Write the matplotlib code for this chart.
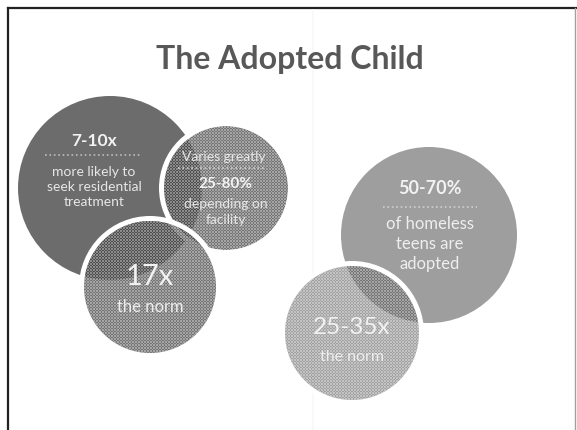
import numpy as np
import matplotlib.pyplot as plt
from matplotlib.patches import Circle

plt.rcParams['font.family'] = ['Lato', 'DejaVu Sans']

title = 'The Adopted Child'

# headline figures and their captions, left group then right group
big_text = ['7-10x', '25-80%', '17x', '50-70%', '25-35x']
top_text = ['', 'Varies greatly', '', '', '']
sub_text = ['more likely to\nseek residential\ntreatment',
            'depending on\nfacility',
            'the norm',
            'of homeless\nteens are\nadopted',
            'the norm']


def ring(ax, cx, cy, r, w=5):
    # white halo around a patterned disc
    ax.add_patch(Circle((cx, cy), r + w / 2, fill=False, edgecolor='white',
                        linewidth=w * 0.72, zorder=3))


def dotted_disc(ax, cx, cy, r, face, alpha, z):
    ax.add_patch(Circle((cx, cy), r, facecolor=face, edgecolor='none',
                        alpha=alpha, zorder=z))
    # fine mesh of light dots, like the printed screen texture
    n = int(2 * r) + 2
    i, j = np.mgrid[0:n, 0:n]
    mask = ((i + j) % 3 == 0) | ((i - j) % 3 == 0)
    tex = np.zeros((n, n, 4))
    tex[..., :3] = 1.0
    tex[..., 3] = np.where(mask, 0.35, 0.0)
    clip = Circle((cx, cy), r, transform=ax.transData)
    im = ax.imshow(tex, extent=(cx - n / 2, cx + n / 2, cy + n / 2, cy - n / 2),
                   interpolation='nearest', zorder=z + 0.1)
    im.set_clip_path(clip)


fig = plt.figure(figsize=(5.77, 4.30), dpi=100)
ax = fig.add_axes([0, 0, 1, 1])
ax.axis('off')

# frame of the scanned slide
ax.plot([8, 8], [430, 8], color='#222222', lw=1.6)
ax.plot([8, 577], [8, 8], color='#222222', lw=1.6)
ax.plot([575, 575], [8, 430], color='#a0a0a0', lw=1.0)
ax.plot([313, 313], [10, 430], color='#f8f8f8', lw=1.2)

ax.text(290, 59, title, ha='center', va='center', fontsize=23,
        color='#585858', fontweight='bold')

# left group
ax.add_patch(Circle((110, 188), 92, facecolor='#6c6c6c', edgecolor='none', zorder=1))
dotted_disc(ax, 226, 188, 62, '#454545', 0.74, 2)
ring(ax, 226, 188, 62)
dotted_disc(ax, 150, 287, 66, '#454545', 0.74, 4)
ring(ax, 150, 287, 66)

# right group
ax.add_patch(Circle((429, 235), 88, facecolor='#9e9e9e', edgecolor='none', zorder=1))
dotted_disc(ax, 352, 333, 67, '#525252', 0.53, 4)
ring(ax, 352, 333, 67)

tc = '#f2f2f2'
tz = 6
# circle 1
ax.text(94, 141, big_text[0], ha='center', va='center', fontsize=12.5,
        fontweight='bold', color=tc, zorder=tz)
ax.plot([45, 142], [155, 155], ls=':', color='#bdbdbd', lw=1.2, zorder=tz)
ax.text(94, 187, sub_text[0], ha='center', va='center', fontsize=10,
        color='#e6e6e6', linespacing=1.35, zorder=tz)
# circle 2
ax.text(224, 157, top_text[1], ha='center', va='center', fontsize=10,
        color='#e6e6e6', zorder=tz)
ax.plot([178, 264], [168, 168], ls=':', color='#cfcfcf', lw=1.2, zorder=tz)
ax.text(225, 184, big_text[1], ha='center', va='center', fontsize=11,
        fontweight='bold', color=tc, zorder=tz)
ax.text(226, 212, sub_text[1], ha='center', va='center', fontsize=10,
        color='#e6e6e6', linespacing=1.3, zorder=tz)
# circle 3
ax.text(150, 277, big_text[2], ha='center', va='center', fontsize=21,
        color=tc, zorder=tz)
ax.text(150, 307, sub_text[2], ha='center', va='center', fontsize=12,
        color='#eeeeee', zorder=tz)
# circle 4
ax.text(430, 188, big_text[3], ha='center', va='center', fontsize=13,
        fontweight='bold', color=tc, zorder=tz)
ax.plot([383, 477], [207, 207], ls=':', color='#d0d0d0', lw=1.2, zorder=tz)
ax.text(430, 244, sub_text[3], ha='center', va='center', fontsize=12,
        color='#eeeeee', linespacing=1.3, zorder=tz)
# circle 5
ax.text(352, 327, big_text[4], ha='center', va='center', fontsize=17.5,
        color=tc, zorder=tz)
ax.text(352, 357, sub_text[4], ha='center', va='center', fontsize=11.5,
        color='#eeeeee', zorder=tz)

ax.set_xlim(0, 577)
ax.set_ylim(430, 0)
ax.set_aspect('auto')

fig.savefig('out.png', dpi=100)
